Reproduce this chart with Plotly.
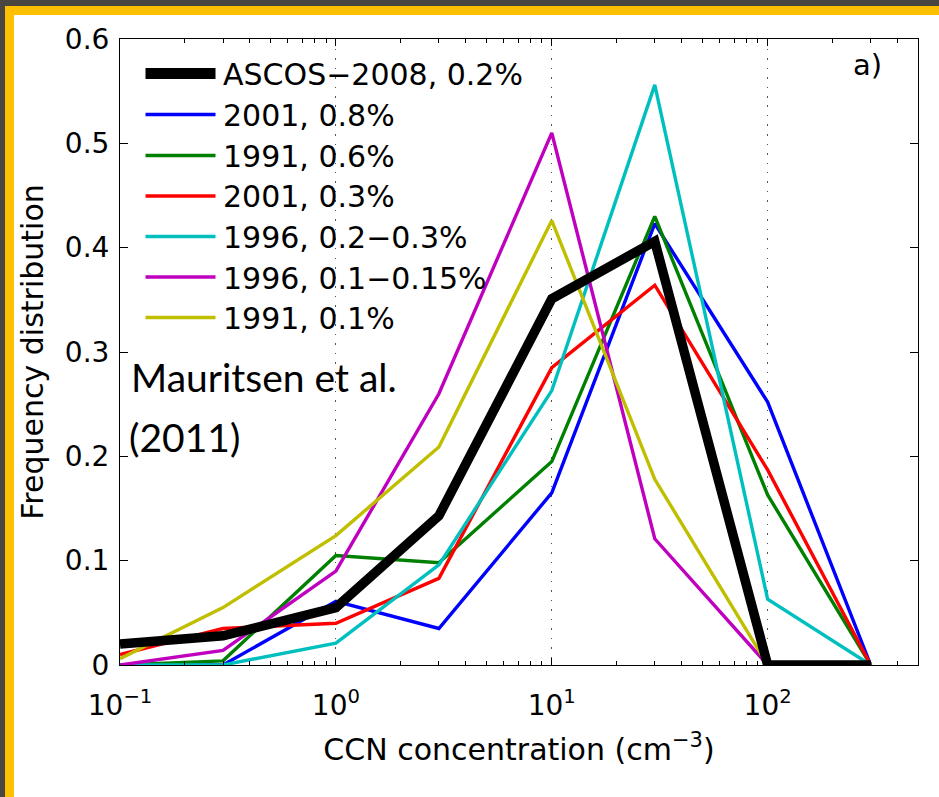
import plotly.graph_objects as go
import numpy as np

# ---- data ----
ccn = [0.1, 0.3, 1, 3, 10, 30, 100, 300]
series_names = ["ASCOS\u22122008, 0.2%", "2001, 0.8%", "1991, 0.6%", "2001, 0.3%",
                "1996, 0.2\u22120.3%", "1996, 0.1\u22120.15%", "1991, 0.1%"]
ascos_2008 = [0.020, 0.028, 0.055, 0.143, 0.351, 0.406, 0.0, 0.0]
y2001_08 = [0.0, 0.0, 0.061, 0.035, 0.165, 0.423, 0.252, 0.0]
y1991_06 = [0.0, 0.004, 0.105, 0.098, 0.195, 0.430, 0.163, 0.0]
y2001_03 = [0.010, 0.035, 0.040, 0.083, 0.285, 0.364, 0.187, 0.0]
y1996_023 = [0.0, 0.0, 0.021, 0.096, 0.263, 0.556, 0.063, 0.0]
y1996_01 = [0.0, 0.014, 0.090, 0.260, 0.510, 0.121, 0.0, 0.0]
y1991_01 = [0.006, 0.055, 0.124, 0.209, 0.426, 0.178, 0.0, 0.0]
x_tickvals = [0.1, 1, 10, 100]
x_ticktext = ["10<sup>\u22121</sup>", "10<sup>0</sup>", "10<sup>1</sup>", "10<sup>2</sup>"]

all_series = [ascos_2008, y2001_08, y1991_06, y2001_03, y1996_023, y1996_01, y1991_01]
colors = ["#000000", "#0000FF", "#008000", "#FF0000", "#00BFBF", "#BF00BF", "#BFBF00"]
widths = [9.5, 3.4, 3.4, 3.4, 3.4, 3.4, 3.4]

FONT = "DejaVu Sans"
W, H = 939, 797
L, R, T, B = 120, 918, 39, 665

def px(xp):
    return (xp - L) / (R - L)

def py(yp):
    return (B - yp) / (B - T)

fig = go.Figure()
# draw coloured series first, black on top
order = [1, 2, 3, 4, 5, 6, 0]
for i in order:
    fig.add_trace(go.Scatter(x=ccn, y=all_series[i], mode="lines", name=series_names[i],
                             line=dict(color=colors[i], width=widths[i]),
                             showlegend=False))

shapes = []
# slide background frame
shapes.append(dict(type="rect", xref="paper", yref="paper", layer="below",
                   x0=px(5), x1=px(980), y0=py(6), y1=py(840),
                   fillcolor="#FFC000", line=dict(width=0)))
shapes.append(dict(type="rect", xref="paper", yref="paper", layer="below",
                   x0=px(14), x1=px(980), y0=py(15), y1=py(840),
                   fillcolor="#FFFFFF", line=dict(width=0)))

annotations = []
# manual legend
leg_y = [73.5, 114.5, 155.5, 196, 236.5, 277, 317.5]
for k in range(7):
    shapes.append(dict(type="line", xref="paper", yref="paper",
                       x0=px(145.5), x1=px(215.5), y0=py(leg_y[k]), y1=py(leg_y[k]),
                       line=dict(color=colors[k], width=11 if k == 0 else 3.5)))
    annotations.append(dict(xref="paper", yref="paper", x=px(221), y=py(leg_y[k] + 1),
                            xanchor="left", yanchor="middle", showarrow=False,
                            text=series_names[k], font=dict(family=FONT, size=30, color="black")))

annotations.append(dict(xref="paper", yref="paper", x=px(129), y=py(377),
                        xanchor="left", yanchor="middle", showarrow=False,
                        text="Mauritsen et al.", font=dict(family="Lato", size=39, color="black")))
annotations.append(dict(xref="paper", yref="paper", x=px(127), y=py(437),
                        xanchor="left", yanchor="middle", showarrow=False,
                        text="(2011)", font=dict(family="Lato", size=39, color="black")))
annotations.append(dict(xref="paper", yref="paper", x=px(884), y=py(65),
                        xanchor="right", yanchor="middle", showarrow=False,
                        text="a)", font=dict(family=FONT, size=29, color="black")))

minor_vals = [m * 10.0 ** e for e in (-1, 0, 1) for m in range(2, 10)] + [200, 300, 400, 500]

fig.update_layout(
    width=W, height=H,
    margin=dict(l=L, r=W - R, t=T, b=H - B),
    paper_bgcolor="#4B4642",
    plot_bgcolor="white",
    shapes=shapes,
    annotations=annotations,
    showlegend=False,
    xaxis=dict(
        type="log", range=[-1, np.log10(497)],
        tickmode="array", tickvals=x_tickvals, ticktext=x_ticktext,
        ticks="inside", ticklen=7, tickwidth=1, tickcolor="black",
        minor=dict(tickmode="array", tickvals=minor_vals, ticks="inside",
                   ticklen=4, tickcolor="black", showgrid=False),
        showline=True, linecolor="black", linewidth=1, mirror="ticks",
        showgrid=True, gridcolor="#555555", griddash="1.5px,8px", gridwidth=1.2,
        zeroline=False,
        tickfont=dict(family=FONT, size=28, color="black"),
        ticklabelstandoff=15,
        title=dict(text="CCN concentration (cm<sup>\u22123</sup>)",
                   font=dict(family=FONT, size=30, color="black"), standoff=18),
    ),
    yaxis=dict(
        range=[0, 0.6], dtick=0.1, tick0=0,
        ticks="inside", ticklen=8, tickwidth=1, tickcolor="black",
        showline=True, linecolor="black", linewidth=1, mirror="ticks",
        showgrid=False, zeroline=False,
        tickfont=dict(family=FONT, size=28, color="black"),
        ticklabelstandoff=4,
        title=dict(text="Frequency distribution",
                   font=dict(family=FONT, size=30, color="black"), standoff=12),
    ),
)

fig.write_html("out.html")
